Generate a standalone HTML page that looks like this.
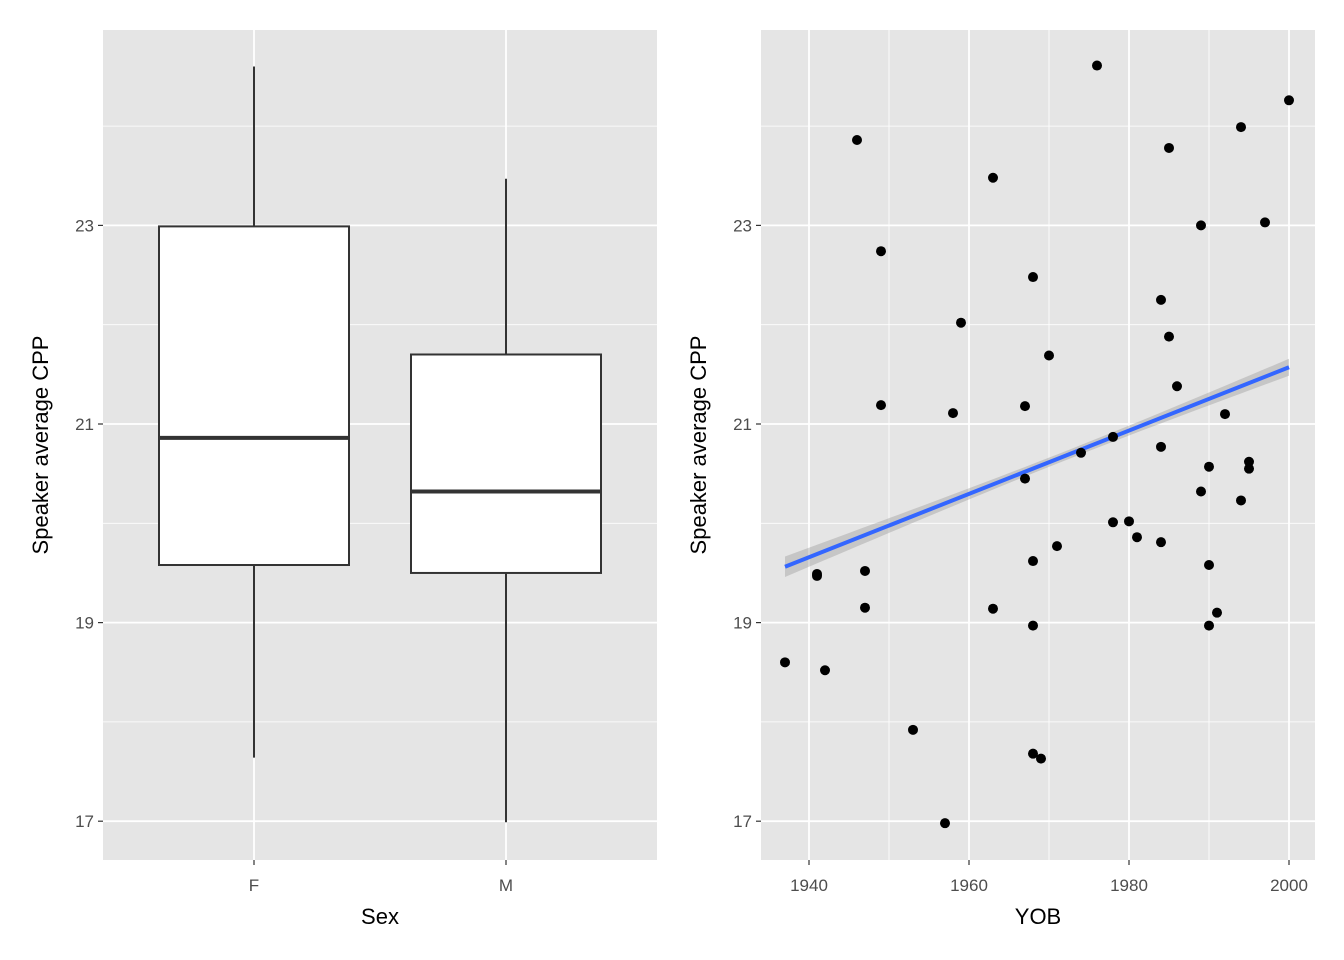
<!DOCTYPE html>
<html><head><meta charset="utf-8"><style>
body{margin:0;background:#fff}
svg{display:block;font-family:"Liberation Sans",Arial,sans-serif}
</style></head><body>
<svg id="chart" width="1344" height="960">
<g id="left"></g>
<g id="right"></g>
</svg>
<script>
const boxCategories=["F","M"];
const boxMin=[17.64,16.99];
const boxQ1=[19.58,19.50];
const boxMedian=[20.86,20.32];
const boxQ3=[22.99,21.70];
const boxMax=[24.60,23.47];
const yTicks=[17,19,21,23];
const yMinor=[18,20,22,24];
const xTicks=[1940,1960,1980,2000];
const xMinor=[1950,1970,1990];
const yob=[1937,1941,1941,1942,1946,1947,1947,1949,1949,1953,1957,1958,1959,1963,1963,1967,1967,1968,1968,1968,1968,1969,1970,1971,1974,1976,1978,1978,1980,1981,1984,1984,1984,1985,1985,1986,1989,1989,1990,1990,1990,1991,1992,1994,1994,1995,1995,1997,2000];
const cpp=[18.60,19.49,19.47,18.52,23.86,19.52,19.15,22.74,21.19,17.92,16.98,21.11,22.02,23.48,19.14,21.18,20.45,22.48,19.62,18.97,17.68,17.63,21.69,19.77,20.71,24.61,20.87,20.01,20.02,19.86,22.25,20.77,19.81,23.78,21.88,21.38,23.00,20.32,20.57,19.58,18.97,19.10,21.10,23.99,20.23,20.62,20.55,23.03,24.26];

const NS="http://www.w3.org/2000/svg";
function mk(parent,tag,attrs,name,text){const e=document.createElementNS(NS,tag);for(const k in attrs)e.setAttribute(k,attrs[k]);


if(text!==undefined)e.textContent=text;parent.appendChild(e);return e;}
const y=v=>424-(v-21)*99.3;
const T=30,B=860;

function panel(g,x0,x1,title){
  mk(g,'rect',{x:x0,y:T,width:x1-x0,height:B-T,fill:'#e5e5e5'},'panel-background');
  yMinor.forEach(v=>mk(g,'line',{x1:x0,x2:x1,y1:y(v),y2:y(v),stroke:'#fff','stroke-width':0.8},'y-minor-gridline'));
  yTicks.forEach(v=>{mk(g,'line',{x1:x0,x2:x1,y1:y(v),y2:y(v),stroke:'#fff','stroke-width':1.8},'y-gridline');
    mk(g,'line',{x1:x0-5,x2:x0,y1:y(v),y2:y(v),stroke:'#333','stroke-width':1.2},'y-tick');
    mk(g,'text',{x:x0-9,y:y(v)+6,'text-anchor':'end','font-size':17,fill:'#4d4d4d'},'y-tick-label',v);});
  mk(g,'text',{x:0,y:0,transform:`translate(${x0-55},445) rotate(-90)`,'text-anchor':'middle','font-size':22,fill:'#000'},'y-axis-title','Speaker average CPP');
  mk(g,'text',{x:(x0+x1)/2,y:924,'text-anchor':'middle','font-size':22,fill:'#000'},'x-axis-title',title);
}
// left
const L=document.getElementById('left');
panel(L,103,657,'Sex');
const bx=i=>254+i*252;
boxCategories.forEach((c,i)=>{
  const cx=bx(i);
  mk(L,'line',{x1:cx,x2:cx,y1:T,y2:B,stroke:'#fff','stroke-width':1.8},'x-gridline');
  mk(L,'line',{x1:cx,x2:cx,y1:B,y2:B+5,stroke:'#333','stroke-width':1.2},'x-tick');
  mk(L,'text',{x:cx,y:891,'text-anchor':'middle','font-size':17,fill:'#4d4d4d'},'x-tick-label',c);
  mk(L,'line',{x1:cx,x2:cx,y1:y(boxMax[i]),y2:y(boxMin[i]),stroke:'#333','stroke-width':2},'box-whisker-'+c);
  mk(L,'rect',{x:cx-95,y:y(boxQ3[i]),width:190,height:y(boxQ1[i])-y(boxQ3[i]),fill:'#fff',stroke:'#333','stroke-width':2},'box-'+c);
  mk(L,'line',{x1:cx-95,x2:cx+95,y1:y(boxMedian[i]),y2:y(boxMedian[i]),stroke:'#333','stroke-width':4},'box-median-'+c);
});
// right
const R=document.getElementById('right');
panel(R,761,1315,'YOB');
const x=v=>809+(v-1940)*8;
xMinor.forEach(v=>mk(R,'line',{x1:x(v),x2:x(v),y1:T,y2:B,stroke:'#fff','stroke-width':0.8},'x-minor-gridline'));
xTicks.forEach(v=>{mk(R,'line',{x1:x(v),x2:x(v),y1:T,y2:B,stroke:'#fff','stroke-width':1.8},'x-gridline');
  mk(R,'line',{x1:x(v),x2:x(v),y1:B,y2:B+5,stroke:'#333','stroke-width':1.2},'x-tick');
  mk(R,'text',{x:x(v),y:891,'text-anchor':'middle','font-size':17,fill:'#4d4d4d'},'x-tick-label',v);});
// regression
const n=yob.length,mx=yob.reduce((a,b)=>a+b)/n,my=cpp.reduce((a,b)=>a+b)/n;
let sxx=0,sxy=0;yob.forEach((v,i)=>{sxx+=(v-mx)**2;sxy+=(v-mx)*(cpp[i]-my);});
const b1=sxy/sxx,b0=my-b1*mx;
let sse=0;yob.forEach((v,i)=>{sse+=(cpp[i]-b0-b1*v)**2;});
const s=Math.sqrt(sse/(n-2));
const xs0=Math.min(...yob),xs1=Math.max(...yob);
const up=[],lo=[];
for(let k=0;k<=40;k++){const xv=xs0+(xs1-xs0)*k/40,f=b0+b1*xv,se=0.18*s*Math.sqrt(1/n+(xv-mx)**2/sxx);
 up.push(x(xv)+','+y(f+se));lo.unshift(x(xv)+','+y(f-se));}
mk(R,'polygon',{points:up.concat(lo).join(' '),fill:'#999','fill-opacity':0.4},'confidence-band');
mk(R,'line',{x1:x(xs0),y1:y(b0+b1*xs0),x2:x(xs1),y2:y(b0+b1*xs1),stroke:'#3366ff','stroke-width':4},'regression-line');
yob.forEach((v,i)=>mk(R,'circle',{cx:x(v),cy:y(cpp[i]),r:5,fill:'#000'},'data-point'));
</script>
</body></html>
